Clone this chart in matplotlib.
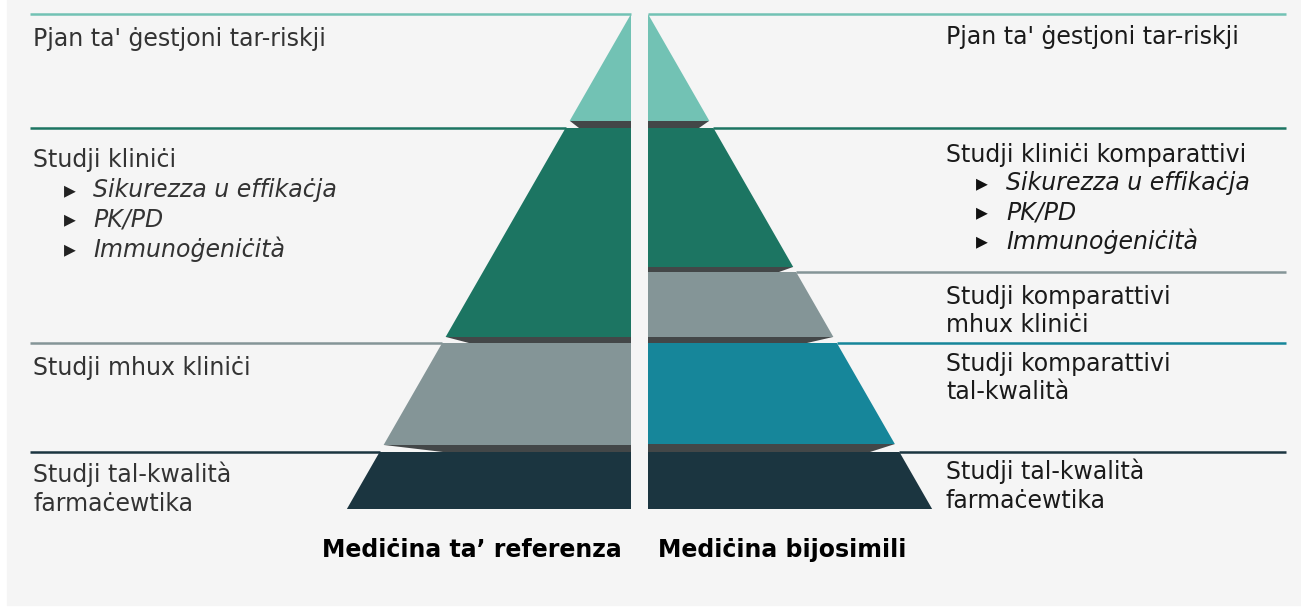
import matplotlib.pyplot as plt
from matplotlib.patches import Polygon, Rectangle

# -------------------- colours --------------------
c_top = "#72c2b4"      # risk management plan
c_clin = "#1c7562"     # clinical studies
c_nonclin = "#849597"  # non-clinical studies
c_qual = "#16869a"     # comparative quality
c_base = "#1b3540"     # pharmaceutical quality
c_shadow = "#434748"
c_bg = "#f5f5f5"

# -------------------- data --------------------
# tiers: (top y, bottom y, colour), pixel rows in the 1301x607 frame
left_tiers = [(14, 121, c_top), (128, 337, c_clin), (343, 445, c_nonclin), (452, 509, c_base)]
left_bevel = [9, 23, 59]
right_tiers = [(14, 121, c_top), (128, 267, c_clin), (272, 337, c_nonclin),
               (343, 444, c_qual), (452, 509, c_base)]
right_bevel = [10, 14, 26, 25]

left_labels = ["Pjan ta' ġestjoni tar-riskji", "Studji kliniċi",
               "Studji mhux kliniċi", "Studji tal-kwalità\nfarmaċewtika"]
right_labels = ["Pjan ta' ġestjoni tar-riskji", "Studji kliniċi komparattivi",
                "Studji komparattivi\nmhux kliniċi", "Studji komparattivi\ntal-kwalità",
                "Studji tal-kwalità\nfarmaċewtika"]
bullets = ["Sikurezza u effikaċja", "PK/PD", "Immunoġeniċità"]
titles = ["Mediċina ta’ referenza", "Mediċina bijosimili"]

W, H = 1301, 607
apex_y = 14
slope = 0.574
lx0, rx0 = 631, 648   # inner edges of the two half pyramids

fig = plt.figure(figsize=(W / 100, H / 100), dpi=100)
ax = fig.add_axes([0, 0, 1, 1])
ax.set_xlim(0, W)
ax.set_ylim(H, 0)
ax.axis("off")
fig.patch.set_facecolor("white")
ax.add_patch(Rectangle((7, 0), W - 7, H - 2, color=c_bg, zorder=0))


def edge(y, side):
    d = slope * (y - apex_y)
    return lx0 - d if side == "L" else rx0 + d


def draw_half(tiers, bevels, side):
    inner = lx0 if side == "L" else rx0
    sgn = 1 if side == "L" else -1
    for i, (yt, yb, col) in enumerate(tiers):
        poly = [(inner, yt), (edge(yt, side), yt), (edge(yb, side), yb), (inner, yb)]
        ax.add_patch(Polygon(poly, closed=True, color=col, lw=0, zorder=2))
        # separator line at the tier top
        if side == "L":
            ax.plot([30, edge(yt, side)], [yt, yt], color=col, lw=1.8, zorder=1,
                    solid_capstyle="butt")
        else:
            ax.plot([edge(yt, side), 1286], [yt, yt], color=col, lw=1.8, zorder=1,
                    solid_capstyle="butt")
        # dark bevel under tier
        if i < len(tiers) - 1:
            ny = tiers[i + 1][0]
            xb = edge(yb, side)
            sh = [(xb, yb), (inner, yb), (inner, ny), (xb + sgn * bevels[i], ny)]
            ax.add_patch(Polygon(sh, closed=True, color=c_shadow, lw=0, zorder=2))


draw_half(left_tiers, left_bevel, "L")
draw_half(right_tiers, right_bevel, "R")

fs = 17
ls = 1.24
# left labels
lc = "#333333"
ax.text(33, 39, left_labels[0], fontsize=fs, color=lc, va="center")
ax.text(33, 160, left_labels[1], fontsize=fs, color=lc, va="center")
for k, b in enumerate(bullets):
    y = 190 + k * 29.5
    ax.text(64, y, "▸", fontsize=fs, color="#222222", va="center")
    ax.text(93, y, b, fontsize=fs, color=lc, va="center", style="italic")
ax.text(33, 368, left_labels[2], fontsize=fs, color=lc, va="center")
ax.text(33, 489, left_labels[3], fontsize=fs, color=lc, va="center", linespacing=ls)

# right labels
rc = "#1a1a1a"
ax.text(946, 37, right_labels[0], fontsize=fs, color=rc, va="center")
ax.text(946, 155, right_labels[1], fontsize=fs, color=rc, va="center")
for k, b in enumerate(bullets):
    y = 183 + k * 29
    ax.text(976, y, "▸", fontsize=fs, color="#111111", va="center")
    ax.text(1006, y, b, fontsize=fs, color=rc, va="center", style="italic")
ax.text(946, 311, right_labels[2], fontsize=fs, color=rc, va="center", linespacing=ls)
ax.text(946, 378, right_labels[3], fontsize=fs, color=rc, va="center", linespacing=ls)
ax.text(946, 486, right_labels[4], fontsize=fs, color=rc, va="center", linespacing=ls)

# bottom captions
ax.text(622, 550, titles[0], fontsize=fs, fontweight="bold", color="black",
        va="center", ha="right")
ax.text(658, 550, titles[1], fontsize=fs, fontweight="bold", color="black",
        va="center", ha="left")

fig.savefig("out.png", dpi=100, facecolor=fig.get_facecolor())
